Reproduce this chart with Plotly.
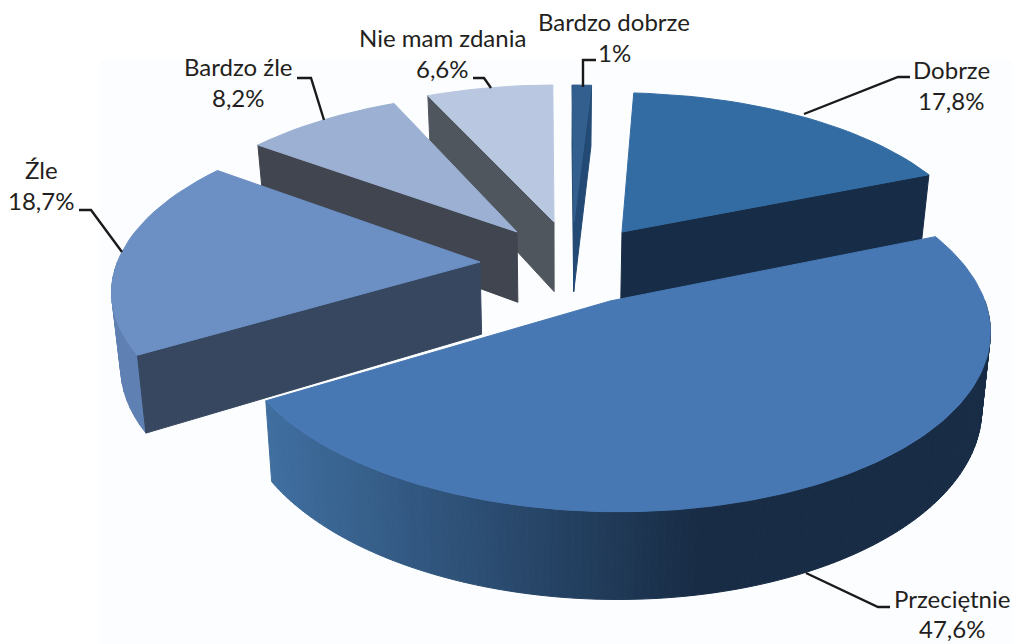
import numpy as np
import plotly.graph_objects as go

labels = ["Bardzo dobrze", "Dobrze", "Przeciętnie", "Źle", "Bardzo źle", "Nie mam zdania"]
values = [1.0, 17.8, 47.6, 18.7, 8.2, 6.6]
value_text = ["1%", "17,8%", "47,6%", "18,7%", "8,2%", "6,6%"]

top_colors = ["#325f8d", "#336ca3", "#4878b3", "#6c8fc4", "#9bb0d2", "#b9c8e0"]
cut_colors = ["#234a75", "#172d47", "#172d47", "#36475f", "#40454f", "#50565e"]
rim_left = ["#2a5788", "#1f4068", "#3f6e9f", "#5f80b2", "#7f93b5", "#9aa9c4"]
rim_right = ["#2a5788", "#1b3350", "#182c45", "#5f80b2", "#7f93b5", "#9aa9c4"]

# apex of each exploded slice on the picture
apex = {0: (574, 222), 1: (622, 232), 2: (610, 301), 3: (480, 262), 4: (517, 232), 5: (554, 222)}
order = [0, 5, 1, 4, 3, 2]

X0, Y0, A, B, P, H, LEAN = 560.0, 260.0, 362.0, 167.0, 0.145, 72.0, 0.02


def project(u, v):
    w = 1 + P * v
    return X0 + A * u / w, Y0 - B * v / w, H / w


def unproject(sx, sy):
    a = (sx - X0) / A
    b = (Y0 - sy) / B
    v = b / (1 - P * b)
    return a * (1 + P * v), v


def lean(x):
    return x + (X0 - x) * LEAN


def mix(c1, c2, t):
    p = [int(c1[i:i + 2], 16) for i in (1, 3, 5)]
    q = [int(c2[i:i + 2], 16) for i in (1, 3, 5)]
    return "rgb(%d,%d,%d)" % tuple(round(a + (b - a) * t) for a, b in zip(p, q))


fig = go.Figure()


def poly(xs, ys, color):
    fig.add_trace(go.Scatter(x=list(xs) + [xs[0]], y=list(ys) + [ys[0]], mode="lines", fill="toself",
                             fillcolor=color, line=dict(color=color, width=1), hoverinfo="skip", showlegend=False))


edges = np.cumsum([0] + values) * 3.6
for i in order:
    t0, t1 = np.radians(edges[i]), np.radians(edges[i + 1])
    n = max(6, int((edges[i + 1] - edges[i]) / (1.0 if i == 2 else 2.5)))
    th = np.linspace(t0, t1, n + 1)
    u0, v0 = unproject(*apex[i])
    sx, sy, sh = project(u0 + np.sin(th), v0 + np.cos(th))
    ax, ay, ah = project(u0, v0)
    cam = (-u0, -1 / P - v0)
    # rim wall: only the part turned to the viewer
    xmin, xmax = sx.min(), sx.max()
    for k in range(n):
        tm = (th[k] + th[k + 1]) / 2
        if np.cos(tm) > 0.0:
            continue
        xm = (sx[k] + sx[k + 1]) / 2
        t = np.clip((xm - 270) / 430, 0, 1) if i == 2 else (xm - xmin) / max(xmax - xmin, 1)
        poly([sx[k], sx[k + 1], lean(sx[k + 1]), lean(sx[k])],
             [sy[k], sy[k + 1], sy[k + 1] + sh[k + 1], sy[k] + sh[k]], mix(rim_left[i], rim_right[i], t))
    # cut walls: only those turned to the viewer
    if -np.cos(t0) * cam[0] + np.sin(t0) * cam[1] > 0:
        poly([ax, sx[0], lean(sx[0]), lean(ax)], [ay, sy[0], sy[0] + sh[0], ay + ah], cut_colors[i])
    if np.cos(t1) * cam[0] - np.sin(t1) * cam[1] > 0:
        poly([ax, sx[-1], lean(sx[-1]), lean(ax)], [ay, sy[-1], sy[-1] + sh[-1], ay + ah], cut_colors[i])
    # top face
    poly([ax] + list(sx), [ay] + list(sy), top_colors[i])

leaders = [
    ([583, 583, 596], [87, 60, 60]),
    ([804, 898, 910], [114, 77, 77]),
    ([806, 878, 890], [573, 607, 607]),
    ([122, 91, 79], [252, 210, 210]),
    ([324, 311, 297], [120, 78, 78]),
    ([491, 484, 473], [88, 78, 78]),
]
for xs, ys in leaders:
    fig.add_trace(go.Scatter(x=xs, y=ys, mode="lines", line=dict(color="#1a1a1a", width=2.4),
                             hoverinfo="skip", showlegend=False))

text_pos = {
    0: (614, 21, 614, 52), 1: (951, 69, 951, 100), 2: (952, 598, 952, 628),
    3: (41, 169, 41, 200), 4: (238, 66, 238, 97), 5: (442, 37, 442, 68),
}
for i, (x1, y1, x2, y2) in text_pos.items():
    for x, y, s in ((x1, y1, labels[i]), (x2, y2, value_text[i])):
        fig.add_annotation(x=x, y=y, text=s, showarrow=False, xanchor="center", yanchor="middle",
                           font=dict(family="Lato", size=24, color="#231f20"))

fig.add_shape(type="rect", x0=100, x1=1012, y0=60, y1=644, fillcolor="#fcfdfe", line_width=0, layer="below")
fig.update_layout(width=1012, height=644, margin=dict(l=0, r=0, t=0, b=0), paper_bgcolor="white",
                  plot_bgcolor="white", showlegend=False,
                  xaxis=dict(range=[0, 1012], visible=False, fixedrange=True),
                  yaxis=dict(range=[644, 0], visible=False, fixedrange=True))
fig.write_html("out.html", config={"displayModeBar": False}, default_width="1012px", default_height="644px",
               include_plotlyjs=True, post_script="document.body.style.margin='0';document.body.style.overflow='hidden';")
